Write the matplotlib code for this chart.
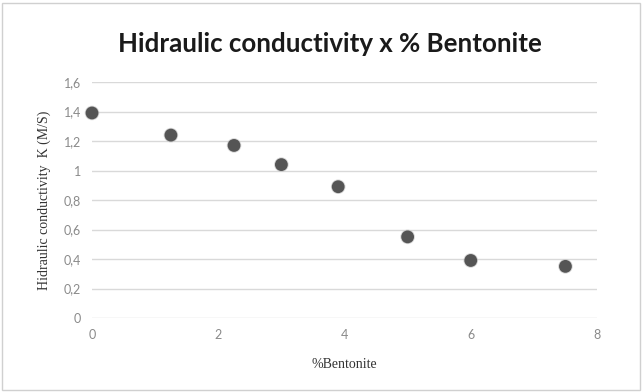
import matplotlib
matplotlib.use("Agg")
import matplotlib.pyplot as plt
from matplotlib.patches import Rectangle

bentonite = [0, 1.25, 2.25, 3.0, 3.9, 5.0, 6.0, 7.5]
conductivity = [1.39, 1.24, 1.17, 1.04, 0.89, 0.55, 0.39, 0.35]
xticks = [0, 2, 4, 6, 8]
yticks = [0, 0.2, 0.4, 0.6, 0.8, 1.0, 1.2, 1.4, 1.6]
ytick_labels = ["0", "0,2", "0,4", "0,6", "0,8", "1", "1,2", "1,4", "1,6"]

W, H = 643, 392
fig = plt.figure(figsize=(W / 100, H / 100), dpi=100)
fig.patch.set_facecolor("white")
fig.add_artist(Rectangle((2 / W, 2 / H), 1 - 5 / W, 1 - 5 / H, transform=fig.transFigure,
                         fill=False, edgecolor="#d0d0d0", linewidth=1.0))

left, right = 92 / W, 597 / W
bottom, top = 1 - 318 / H, 1 - 82 / H
ax = fig.add_axes([left, bottom, right - left, top - bottom])
ax.set_xlim(0, 8)
ax.set_ylim(0, 1.6)
ax.set_xticks(xticks)
ax.set_yticks(yticks)
ax.set_yticklabels(ytick_labels)
for s in ax.spines.values():
    s.set_visible(False)
ax.grid(axis="y", color="#d9d9d9", linewidth=1.0)
ax.set_axisbelow(True)
ax.tick_params(length=0, labelsize=9, labelcolor="#8a8a8a", pad=8)
for lab in ax.get_xticklabels() + ax.get_yticklabels():
    lab.set_family("Lato")

ax.scatter(bentonite, conductivity, s=110, color="#bdbdbd", alpha=0.6, zorder=2,
           edgecolors="none", clip_on=False)
ax.scatter(bentonite, conductivity, s=85, color="#555555", zorder=3,
           edgecolors="none", clip_on=False)

title = fig.text(330 / W, 1 - 44 / H, "Hidraulic conductivity x % Bentonite", ha="center",
                 va="center", fontsize=17, fontweight="bold", color="#1a1a1a", family="Lato")
renderer = fig.canvas.get_renderer()
wpx = title.get_window_extent(renderer).width
title.set_fontsize(17 * 423 / wpx)

ax.set_xlabel("%Bentonite", family="Liberation Serif", fontsize=10, color="#333333", labelpad=12)
ax.set_ylabel("Hidraulic conductivity  K (M/S)", family="Liberation Serif", fontsize=10,
              color="#333333", labelpad=9)

fig.savefig("out.png", dpi=100, facecolor="white")
